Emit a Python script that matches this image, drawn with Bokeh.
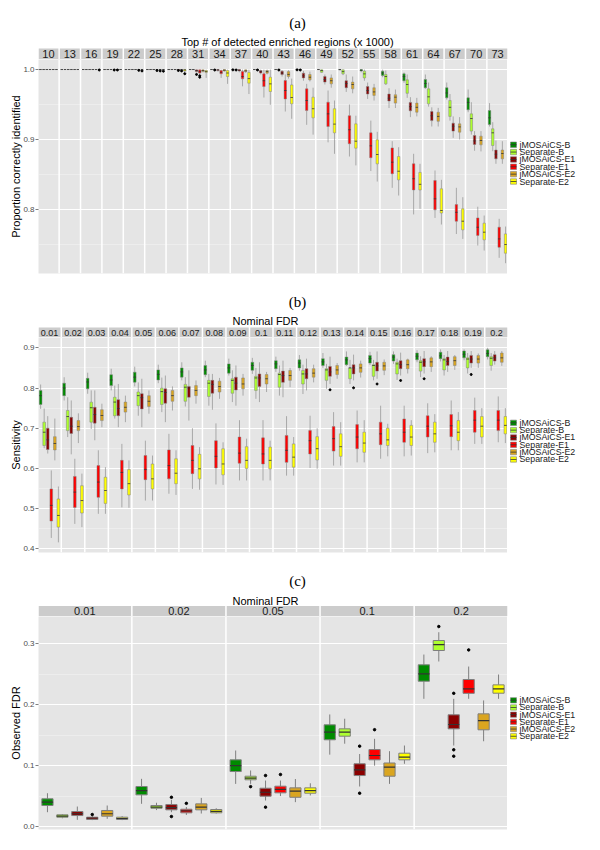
from bokeh.plotting import figure
from bokeh.models import Range1d, FixedTicker, ColumnDataSource, PrintfTickFormatter
from bokeh.layouts import column, row
from bokeh.embed import file_html
from bokeh.resources import INLINE
from bokeh.core.properties import value

METHODS = ["jMOSAiCS-B", "Separate-B", "jMOSAiCS-E1", "Separate-E1", "jMOSAiCS-E2", "Separate-E2"]
COLORS = ["#008B00", "#ADFF2F", "#8B0000", "#FF0000", "#DAA520", "#FFFF00"]

# ---------------- panel (a) ----------------
A_FACETS = ["10", "13", "16", "19", "22", "25", "28", "31", "34", "37", "40",
            "43", "46", "49", "52", "55", "58", "61", "64", "67", "70", "73"]
A_LO = [
    [1.0] * 14 + [0.999, 0.996, 0.989, 0.981, 0.9724, 0.957, 0.939, 0.9186],
    [1.0] * 13 + [0.995, 0.992, 0.984, 0.978, 0.9595, 0.947, 0.927, 0.907, 0.8833],
    [1.0] * 7 + [0.996, 0.997, 0.996, 0.993, 0.99, 0.984, 0.9786, 0.968, 0.958, 0.945, 0.932, 0.9186, 0.9024, 0.884, 0.8653],
    [1.0] * 6 + [0.998, 0.993, 0.988, 0.976, 0.96, 0.94, 0.921, 0.896, 0.8757, 0.855, 0.831, 0.793, 0.788, 0.765, 0.7486, 0.731],
    [1.0] * 7 + [0.996, 0.997, 0.995, 0.993, 0.987, 0.983, 0.974, 0.966, 0.9557, 0.945, 0.933, 0.9186, 0.9, 0.883, 0.8653],
    [1.0] * 6 + [0.996, 0.988, 0.9795, 0.965, 0.9496, 0.9296, 0.907, 0.8796, 0.863, 0.84, 0.82, 0.801, 0.7786, 0.758, 0.7414, 0.7233],
]
A_Q1 = [
    [1.0] * 14 + [0.9995, 0.998, 0.9914, 0.984, 0.974, 0.9595, 0.9424, 0.9214],
    [1.0] * 13 + [0.996, 0.9938, 0.988, 0.9795, 0.966, 0.951, 0.933, 0.912, 0.8914],
    [1.0] * 7 + [0.997, 0.9985, 0.998, 0.995, 0.9929, 0.988, 0.982, 0.974, 0.965, 0.955, 0.941, 0.927, 0.912, 0.893, 0.8724],
    [1.0] * 6 + [0.9993, 0.995, 0.994, 0.9867, 0.9757, 0.958, 0.9414, 0.9186, 0.894, 0.874, 0.851, 0.828, 0.7996, 0.7833, 0.763, 0.746],
    [1.0] * 7 + [0.997, 0.998, 0.997, 0.9947, 0.99, 0.9853, 0.9795, 0.9724, 0.963, 0.952, 0.939, 0.926, 0.9105, 0.8924, 0.8724],
    [1.0] * 6 + [0.998, 0.996, 0.99, 0.9805, 0.9686, 0.951, 0.931, 0.9096, 0.8876, 0.8653, 0.8424, 0.828, 0.795, 0.771, 0.7567, 0.7376],
]
A_MED = [
    [1.0] * 14 + [1.0, 0.999, 0.995, 0.99, 0.98, 0.9665, 0.953, 0.931],
    [1.0] * 13 + [0.9985, 0.997, 0.9938, 0.99, 0.9786, 0.961, 0.946, 0.93, 0.9096],
    [1.0] * 7 + [0.9985, 0.9995, 0.999, 0.997, 0.995, 0.991, 0.9857, 0.98, 0.97, 0.959, 0.947, 0.934, 0.919, 0.898, 0.879],
    [1.0] * 6 + [1.0, 0.997, 0.996, 0.99, 0.984, 0.97, 0.9557, 0.9367, 0.914, 0.891, 0.8676, 0.844, 0.8153, 0.796, 0.7747, 0.758],
    [1.0] * 7 + [0.9985, 0.999, 0.998, 0.997, 0.993, 0.989, 0.984, 0.9786, 0.968, 0.9605, 0.946, 0.933, 0.918, 0.8986, 0.88],
    [1.0] * 6 + [0.9995, 0.997, 0.995, 0.987, 0.9795, 0.96, 0.944, 0.922, 0.8976, 0.8786, 0.8547, 0.836, 0.7986, 0.7833, 0.7676, 0.75],
]
A_Q3 = [
    [1.0] * 14 + [1.0, 1.0, 0.9976, 0.9938, 0.9857, 0.974, 0.9595, 0.9414],
    [1.0] * 13 + [0.9995, 0.9995, 0.9976, 0.9929, 0.9853, 0.9724, 0.9557, 0.9367, 0.9153],
    [1.0] * 7 + [0.9995, 1.0, 1.0, 0.9986, 0.9976, 0.9948, 0.99, 0.984, 0.9757, 0.965, 0.953, 0.94, 0.9234, 0.9057, 0.885],
    [1.0] * 6 + [1.0, 0.9995, 0.9985, 0.997, 0.9938, 0.9843, 0.9724, 0.9533, 0.934, 0.9096, 0.888, 0.8653, 0.8414, 0.807, 0.788, 0.7748],
    [1.0] * 7 + [0.9995, 1.0, 0.9995, 0.9986, 0.997, 0.9929, 0.988, 0.982, 0.974, 0.964, 0.952, 0.939, 0.9224, 0.9048, 0.885],
    [1.0] * 6 + [1.0, 0.9985, 0.9985, 0.9957, 0.989, 0.978, 0.9605, 0.944, 0.9224, 0.8996, 0.8757, 0.853, 0.8296, 0.801, 0.7805, 0.7652],
]
A_HI = [
    [1.0] * 14 + [1.0, 1.0, 1.0, 0.9957, 0.9929, 0.9814, 0.9714, 0.952],
    [1.0] * 13 + [1.0, 1.0, 1.0, 0.9986, 0.9929, 0.9814, 0.965, 0.9533, 0.9248],
    [1.0] * 7 + [1.0, 1.0, 1.0, 1.0, 0.999, 0.998, 0.9929, 0.9929, 0.9814, 0.9733, 0.9605, 0.946, 0.933, 0.912, 0.8986],
    [1.0] * 6 + [1.0, 1.0, 1.0, 1.0, 1.0, 0.993, 0.9795, 0.97, 0.95, 0.927, 0.8976, 0.8796, 0.8557, 0.831, 0.804, 0.7867],
    [1.0] * 7 + [1.0, 1.0, 1.0, 1.0, 0.999, 0.997, 0.9929, 0.99, 0.9795, 0.9714, 0.9595, 0.9452, 0.932, 0.912, 0.8976],
    [1.0] * 6 + [1.0, 1.0, 1.0, 1.0, 1.0, 0.987, 0.974, 0.9557, 0.934, 0.911, 0.889, 0.8653, 0.8424, 0.8176, 0.7914, 0.7757],
]
A_OUT_M = [5, 3, 4, 4, 5, 3, 4, 5, 3, 4, 5, 2, 3, 3, 1, 1, 0, 1, 1, 0, 1]
A_OUT_F = [2, 3, 3, 4, 4, 5, 5, 5, 6, 6, 6, 7, 7, 7, 8, 9, 9, 10, 11, 12, 12]
A_OUT_V = [0.9993, 0.9993, 0.9993, 0.9988, 0.998, 0.9986, 0.998, 0.9976, 0.9986, 0.998, 0.994,
           0.993, 0.991, 0.989, 0.9993, 0.9993, 0.9995, 0.9993, 0.9993, 0.9995, 0.9993]

# ---------------- panel (b) ----------------
B_FACETS = ["0.01", "0.02", "0.03", "0.04", "0.05", "0.06", "0.07", "0.08", "0.09", "0.1",
            "0.11", "0.12", "0.13", "0.14", "0.15", "0.16", "0.17", "0.18", "0.19", "0.2"]
B_LO = [
    [0.748, 0.769, 0.7856, 0.794, 0.804, 0.812, 0.819, 0.827, 0.831, 0.835, 0.84, 0.843, 0.85, 0.855, 0.857, 0.86, 0.864, 0.866, 0.869, 0.871],
    [0.65, 0.678, 0.698, 0.724, 0.731, 0.74, 0.754, 0.756, 0.765, 0.773, 0.781, 0.785, 0.798, 0.81, 0.819, 0.82, 0.827, 0.831, 0.836, 0.843],
    [0.637, 0.635, 0.67, 0.7025, 0.7025, 0.715, 0.719, 0.746, 0.756, 0.765, 0.777, 0.794, 0.81, 0.819, 0.823, 0.831, 0.836, 0.84, 0.85, 0.858],
    [0.427, 0.462, 0.487, 0.503, 0.52, 0.537, 0.549, 0.56, 0.57, 0.57, 0.582, 0.601, 0.607, 0.615, 0.624, 0.63, 0.638, 0.645, 0.661, 0.665],
    [0.62, 0.663, 0.7025, 0.715, 0.736, 0.744, 0.761, 0.773, 0.781, 0.79, 0.802, 0.814, 0.823, 0.826, 0.832, 0.836, 0.84, 0.845, 0.85, 0.855],
    [0.416, 0.454, 0.487, 0.502, 0.52, 0.534, 0.547, 0.559, 0.57, 0.57, 0.582, 0.599, 0.607, 0.615, 0.63, 0.632, 0.64, 0.645, 0.661, 0.663],
]
B_Q1 = [
    [0.759, 0.781, 0.798, 0.806, 0.8144, 0.82, 0.827, 0.833, 0.837, 0.844, 0.848, 0.85, 0.856, 0.858, 0.862, 0.867, 0.87, 0.873, 0.875, 0.878],
    [0.657, 0.694, 0.715, 0.731, 0.756, 0.759, 0.767, 0.779, 0.787, 0.794, 0.802, 0.81, 0.819, 0.823, 0.829, 0.835, 0.842, 0.845, 0.85, 0.856],
    [0.647, 0.687, 0.7125, 0.731, 0.748, 0.762, 0.777, 0.787, 0.795, 0.804, 0.814, 0.823, 0.829, 0.835, 0.842, 0.848, 0.853, 0.856, 0.862, 0.867],
    [0.469, 0.503, 0.528, 0.549, 0.572, 0.574, 0.587, 0.601, 0.613, 0.611, 0.615, 0.636, 0.643, 0.649, 0.659, 0.665, 0.678, 0.679, 0.69, 0.694],
    [0.646, 0.694, 0.719, 0.74, 0.754, 0.767, 0.781, 0.79, 0.798, 0.81, 0.819, 0.827, 0.8335, 0.839, 0.844, 0.848, 0.853, 0.856, 0.862, 0.864],
    [0.454, 0.489, 0.513, 0.534, 0.549, 0.562, 0.574, 0.584, 0.6, 0.599, 0.603, 0.621, 0.63, 0.64, 0.657, 0.657, 0.665, 0.669, 0.678, 0.686],
]
B_MED = [
    [0.781, 0.8, 0.815, 0.82, 0.827, 0.834, 0.84, 0.845, 0.85, 0.856, 0.86, 0.862, 0.865, 0.87, 0.873, 0.877, 0.879, 0.88, 0.884, 0.886],
    [0.69, 0.729, 0.751, 0.765, 0.781, 0.791, 0.802, 0.812, 0.819, 0.825, 0.8335, 0.835, 0.845, 0.85, 0.856, 0.86, 0.864, 0.87, 0.872, 0.874],
    [0.671, 0.705, 0.734, 0.749, 0.776, 0.789, 0.8, 0.809, 0.812, 0.825, 0.831, 0.835, 0.84, 0.85, 0.855, 0.858, 0.865, 0.866, 0.872, 0.875],
    [0.508, 0.541, 0.566, 0.59, 0.597, 0.607, 0.62, 0.63, 0.638, 0.636, 0.645, 0.669, 0.674, 0.678, 0.686, 0.69, 0.705, 0.706, 0.72, 0.72],
    [0.662, 0.704, 0.7316, 0.752, 0.767, 0.781, 0.794, 0.8035, 0.81, 0.823, 0.831, 0.837, 0.845, 0.85, 0.855, 0.858, 0.865, 0.868, 0.872, 0.875],
    [0.483, 0.52, 0.545, 0.562, 0.574, 0.588, 0.599, 0.611, 0.62, 0.62, 0.628, 0.649, 0.654, 0.663, 0.671, 0.678, 0.686, 0.69, 0.705, 0.707],
]
B_Q3 = [
    [0.7938, 0.812, 0.824, 0.833, 0.8393, 0.845, 0.85, 0.856, 0.86, 0.864, 0.868, 0.87, 0.873, 0.877, 0.881, 0.883, 0.887, 0.889, 0.892, 0.895],
    [0.715, 0.744, 0.7647, 0.777, 0.79, 0.7995, 0.809, 0.819, 0.823, 0.829, 0.837, 0.8435, 0.848, 0.85, 0.858, 0.864, 0.868, 0.873, 0.875, 0.878],
    [0.7, 0.727, 0.752, 0.771, 0.786, 0.798, 0.804, 0.819, 0.827, 0.835, 0.842, 0.848, 0.8535, 0.858, 0.864, 0.868, 0.873, 0.877, 0.881, 0.883],
    [0.549, 0.58, 0.607, 0.62, 0.632, 0.646, 0.657, 0.669, 0.678, 0.676, 0.682, 0.694, 0.704, 0.709, 0.715, 0.723, 0.731, 0.734, 0.744, 0.744],
    [0.679, 0.719, 0.746, 0.765, 0.781, 0.794, 0.806, 0.817, 0.825, 0.8335, 0.8435, 0.848, 0.856, 0.86, 0.864, 0.87, 0.875, 0.878, 0.881, 0.887],
    [0.524, 0.557, 0.578, 0.597, 0.611, 0.624, 0.635, 0.649, 0.654, 0.653, 0.661, 0.679, 0.686, 0.69, 0.7, 0.707, 0.715, 0.719, 0.729, 0.729],
]
B_HI = [
    [0.8087, 0.8268, 0.838, 0.848, 0.853, 0.858, 0.864, 0.868, 0.873, 0.875, 0.878, 0.882, 0.887, 0.891, 0.89, 0.891, 0.894, 0.896, 0.896, 0.9],
    [0.749, 0.777, 0.794, 0.806, 0.814, 0.826, 0.827, 0.835, 0.844, 0.85, 0.856, 0.858, 0.86, 0.87, 0.87, 0.873, 0.879, 0.882, 0.887, 0.887],
    [0.73, 0.769, 0.794, 0.81, 0.823, 0.831, 0.844, 0.835, 0.856, 0.864, 0.868, 0.873, 0.878, 0.883, 0.891, 0.888, 0.892, 0.892, 0.892, 0.892],
    [0.595, 0.624, 0.645, 0.661, 0.669, 0.686, 0.7, 0.712, 0.72, 0.72, 0.73, 0.731, 0.74, 0.744, 0.756, 0.756, 0.762, 0.769, 0.776, 0.779],
    [0.724, 0.737, 0.761, 0.781, 0.794, 0.804, 0.8187, 0.825, 0.835, 0.84, 0.85, 0.858, 0.862, 0.868, 0.871, 0.873, 0.879, 0.882, 0.886, 0.892],
    [0.555, 0.587, 0.603, 0.62, 0.632, 0.645, 0.653, 0.665, 0.674, 0.669, 0.678, 0.7, 0.715, 0.72, 0.711, 0.72, 0.735, 0.74, 0.75, 0.75],
]
B_OUT_M = [2, 2, 2, 2, 2, 2]
B_OUT_F = [12, 13, 14, 15, 16, 18]
B_OUT_V = [0.7955, 0.8005, 0.81, 0.8187, 0.823, 0.8336]

# ---------------- panel (c) ----------------
C_FACETS = ["0.01", "0.02", "0.05", "0.1", "0.2"]
C_LO = [
    [0.0235, 0.0373, 0.070, 0.118, 0.2097],
    [0.0135, 0.027, 0.070, 0.136, 0.271],
    [0.011, 0.0235, 0.0427, 0.0657, 0.133],
    [0.0105, 0.019, 0.050, 0.100, 0.2097],
    [0.0126, 0.0213, 0.040, 0.070, 0.140],
    [0.0105, 0.0213, 0.051, 0.103, 0.2097],
]
C_Q1 = [
    [0.0345, 0.052, 0.0903, 0.1424, 0.2386],
    [0.0153, 0.030, 0.0767, 0.1483, 0.289],
    [0.018, 0.0274, 0.0498, 0.0837, 0.1604],
    [0.0115, 0.0225, 0.0553, 0.1095, 0.2187],
    [0.017, 0.0274, 0.048, 0.0826, 0.1588],
    [0.0115, 0.0225, 0.0547, 0.1095, 0.2189],
]
C_MED = [
    [0.040, 0.059, 0.100, 0.155, 0.2507],
    [0.017, 0.032, 0.0796, 0.155, 0.2988],
    [0.021, 0.031, 0.0563, 0.093, 0.1675],
    [0.0137, 0.0257, 0.061, 0.1166, 0.226],
    [0.021, 0.032, 0.058, 0.0974, 0.174],
    [0.0132, 0.025, 0.059, 0.1138, 0.226],
]
C_Q3 = [
    [0.0455, 0.0657, 0.1095, 0.167, 0.2655],
    [0.0192, 0.0345, 0.0826, 0.1604, 0.3054],
    [0.0246, 0.036, 0.0629, 0.103, 0.1834],
    [0.0153, 0.0284, 0.0662, 0.1264, 0.2414],
    [0.0263, 0.0372, 0.0635, 0.1043, 0.185],
    [0.0153, 0.0279, 0.0635, 0.1204, 0.2326],
]
C_HI = [
    [0.0547, 0.0783, 0.1248, 0.184, 0.2824],
    [0.0205, 0.039, 0.092, 0.177, 0.319],
    [0.0328, 0.0438, 0.0755, 0.119, 0.2097],
    [0.017, 0.032, 0.0755, 0.144, 0.2627],
    [0.0345, 0.047, 0.078, 0.1237, 0.207],
    [0.017, 0.030, 0.071, 0.133, 0.2496],
]
C_OUT_M = [1, 1, 2, 2, 2, 2, 2, 2, 2, 2, 2, 3, 3, 3, 3, 3]
C_OUT_F = [4, 2, 1, 1, 2, 2, 3, 3, 4, 4, 4, 0, 1, 2, 3, 4]
C_OUT_V = [0.3284, 0.0655, 0.048, 0.0164, 0.0837, 0.0318, 0.132, 0.0547, 0.2187, 0.126, 0.1155,
           0.0197, 0.038, 0.0854, 0.159, 0.29]

SANS = "Liberation Sans"
WHISK = "#7F7F7F"
MEDC = "#333333"
LEFT = 38
MAIN_W = 507
LEG_W = 90
TOTAL_W = MAIN_W + LEG_W
FRAME_W = MAIN_W - LEFT


def geometry(n):
    g = 1.5
    w = (FRAME_W - (n - 1) * g) / n
    unit = w / 6.2
    gu = g / unit
    period = 6.2 + gu
    xmax = n * 6.2 + (n - 1) * gu
    lefts = [f * period for f in range(n)]
    return lefts, gu, xmax


def header(facets, h, strip_h, strip_font, letter, letter_y, title, title_px, title_y):
    n = len(facets)
    lefts, gu, xmax = geometry(n)
    upx = FRAME_W / xmax
    p = figure(width=TOTAL_W, height=h, x_range=Range1d(0, xmax), y_range=Range1d(h, 0),
               output_backend="svg", toolbar_location=None,
               x_axis_location=None, y_axis_location=None,
               min_border_left=LEFT, min_border_right=LEG_W, min_border_top=0, min_border_bottom=0,
               background_fill_color="white", border_fill_color="white",
               outline_line_color=None)
    p.xgrid.visible = False
    p.ygrid.visible = False
    p.quad(left=lefts, right=[x + 6.2 for x in lefts], top=h - strip_h, bottom=h,
           fill_color="#CCCCCC", line_color=None)
    p.text(x=[x + 3.1 for x in lefts], y=h - strip_h / 2, text=facets,
           text_align="center", text_baseline="middle",
           text_font=value(SANS), text_font_size=strip_font, text_color="#1A1A1A")
    p.text(x=[(297 - LEFT) / upx], y=[letter_y], text=[letter], text_align="center",
           text_baseline="middle", text_font=value("Liberation Serif"),
           text_font_size="15px", text_color="black")
    p.text(x=[(title_px - LEFT) / upx], y=[title_y], text=[title], text_align="center",
           text_baseline="middle", text_font=value(SANS),
           text_font_size="11px", text_color="black")
    return p


def legend_fig(h, center_y):
    p = figure(width=LEG_W, height=h, x_range=Range1d(0, LEG_W), y_range=Range1d(h, 0),
               output_backend="svg", toolbar_location=None,
               x_axis_location=None, y_axis_location=None,
               min_border_left=0, min_border_right=0, min_border_top=0, min_border_bottom=0,
               background_fill_color="white", border_fill_color="white",
               outline_line_color=None)
    p.xgrid.visible = False
    p.ygrid.visible = False
    step = 7.6
    ys = [center_y + (i - 2.5) * step for i in range(len(METHODS))]
    p.quad(left=3, right=9, bottom=[y + 2.8 for y in ys], top=[y - 2.8 for y in ys],
           fill_color=COLORS, line_color=WHISK, line_width=0.6)
    p.segment(x0=3, y0=ys, x1=9, y1=ys, line_color=MEDC, line_width=0.8)
    p.text(x=12, y=ys, text=METHODS, text_align="left", text_baseline="middle",
           text_font=value(SANS), text_font_size="8.8px", text_color="#1A1A1A")
    return p


def build(facets, lo, q1, md, q3, hi, om, of, ov, cfg):
    n = len(facets)
    lefts, gu, xmax = geometry(n)
    fh = cfg["frame_h"]
    ybot = cfg["ybot"]
    ytop = ybot + fh / cfg["scale"]

    p = figure(width=MAIN_W, height=fh + cfg["bottom"], x_range=Range1d(0, xmax),
               y_range=Range1d(ybot, ytop), output_backend="svg",
               toolbar_location=None, x_axis_location=None,
               min_border_left=LEFT, min_border_right=0,
               min_border_top=0, min_border_bottom=cfg["bottom"],
               background_fill_color="#E5E5E5", border_fill_color="white",
               outline_line_color=None)
    p.xgrid.visible = False
    p.ygrid.grid_line_color = "white"
    p.ygrid.grid_line_width = 1.1
    p.ygrid.minor_grid_line_color = "#F2F2F2"
    p.ygrid.minor_grid_line_width = 0.6

    ax = p.yaxis[0]
    ax.ticker = FixedTicker(ticks=cfg["ticks"], minor_ticks=cfg["minor"])
    ax.formatter = PrintfTickFormatter(format="%.1f")
    ax.axis_line_color = None
    ax.major_tick_line_color = "#7F7F7F"
    ax.major_tick_out = 3
    ax.major_tick_in = 0
    ax.minor_tick_out = 0
    ax.minor_tick_in = 0
    ax.major_label_standoff = 1
    ax.major_label_text_font = SANS
    ax.major_label_text_font_size = "8px"
    ax.major_label_text_color = "#4D4D4D"
    ax.axis_label = cfg["ylabel"]
    ax.axis_label_text_font = SANS
    ax.axis_label_text_font_size = "11px"
    ax.axis_label_text_font_style = "normal"
    ax.axis_label_text_color = "black"
    ax.axis_label_standoff = -2

    gl = [x + 6.2 for x in lefts[:-1]]
    gr = [x + gu for x in gl]
    p.quad(left=gl, right=gr, bottom=ybot, top=ytop, fill_color="white", line_color=None)

    bw = cfg["bw"] / 2
    for k in range(6):
        xs = [lefts[f] + (k + 1) - 0.4 for f in range(n)]
        src = ColumnDataSource(dict(x=xs, l=[x - bw for x in xs], r=[x + bw for x in xs],
                                    lo=lo[k], q1=q1[k], md=md[k], q3=q3[k], hi=hi[k]))
        p.segment(x0="x", y0="lo", x1="x", y1="q1", source=src,
                  line_color=WHISK, line_width=cfg["wlw"])
        p.segment(x0="x", y0="q3", x1="x", y1="hi", source=src,
                  line_color=WHISK, line_width=cfg["wlw"])
        p.quad(left="l", right="r", bottom="q1", top="q3", source=src,
               fill_color=COLORS[k], line_color=WHISK, line_width=cfg["blw"])
        p.segment(x0="l", y0="md", x1="r", y1="md", source=src,
                  line_color=MEDC, line_width=cfg["mlw"])

    ox = [lefts[f] + (m + 1) - 0.4 for m, f in zip(om, of)]
    p.scatter(x=ox, y=ov, size=cfg["osize"], color="black", marker="circle")
    return p


pa = build(A_FACETS, A_LO, A_Q1, A_MED, A_Q3, A_HI, A_OUT_M, A_OUT_F, A_OUT_V,
           dict(frame_h=214, bottom=7, ybot=0.7086, scale=700,
                ticks=[0.8, 0.9, 1.0], minor=[0.75, 0.85, 0.95],
                ylabel="Proportion correctly identified",
                bw=0.75, wlw=0.6, blw=0.5, mlw=0.8, osize=2))
pb = build(B_FACETS, B_LO, B_Q1, B_MED, B_Q3, B_HI, B_OUT_M, B_OUT_F, B_OUT_V,
           dict(frame_h=215, bottom=8, ybot=0.3908, scale=402,
                ticks=[0.4, 0.5, 0.6, 0.7, 0.8, 0.9], minor=[0.45, 0.55, 0.65, 0.75, 0.85],
                ylabel="Sensitivity",
                bw=0.75, wlw=0.6, blw=0.5, mlw=0.8, osize=2))
pc = build(C_FACETS, C_LO, C_Q1, C_MED, C_Q3, C_HI, C_OUT_M, C_OUT_F, C_OUT_V,
           dict(frame_h=213, bottom=12, ybot=-0.0049, scale=609,
                ticks=[0.0, 0.1, 0.2, 0.3], minor=[0.05, 0.15, 0.25],
                ylabel="Observed FDR",
                bw=0.75, wlw=1.0, blw=1.0, mlw=1.2, osize=2.5))

ha = header(A_FACETS, 59, 11, "11px", "(a)", 22.8,
            "Top # of detected enriched regions (x 1000)", 287, 41.8)
hb = header(B_FACETS, 57, 10, "9px", "(b)", 21.2, "Nominal FDR", 265, 40.4)
hc = header(C_FACETS, 56, 10.5, "11px", "(c)", 20.6, "Nominal FDR", 265, 40.0)

la = legend_fig(221, 107)
lb = legend_fig(223, 107.5)
lc = legend_fig(225, 107.5)

layout = column(ha, row(pa, la, spacing=0), hb, row(pb, lb, spacing=0),
                hc, row(pc, lc, spacing=0), spacing=0)
open("out.html", "w").write(file_html(layout, INLINE))
